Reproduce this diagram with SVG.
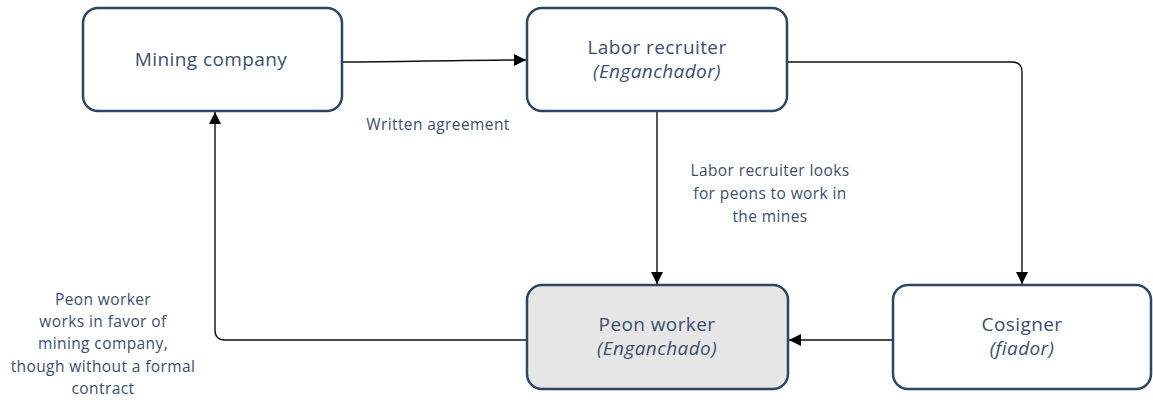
<svg xmlns="http://www.w3.org/2000/svg" width="1153" height="404" viewBox="0 0 1153 404">
<defs>
<marker id="arr" viewBox="0 0 10 10" refX="10" refY="5" markerWidth="12" markerHeight="12" markerUnits="userSpaceOnUse" orient="auto">
<path d="M0,0 L10,5 L0,10 z" fill="#000"/>
</marker>
</defs>
<style>
.box{fill:#fff;stroke:#2c4664;stroke-width:2.5}
.grey{fill:#e6e6e6}
.t{font-family:"Open Sans","Liberation Sans",sans-serif;fill:#3a4f6e;text-anchor:middle}
.n{font-size:19px;letter-spacing:0.4px}
.i{font-style:italic}
.l{font-size:15.5px;letter-spacing:0.4px}
.c{fill:none;stroke:#111;stroke-width:1.4}
</style>
<g id="connectors">
<path class="c" d="M342,62 C400,62 460,60 526,60" marker-end="url(#arr)"/>
<path class="c" d="M787,62 L1012,62 Q1022,62 1022,72 L1022,284" marker-end="url(#arr)"/>
<path class="c" d="M657,111 L657,284" marker-end="url(#arr)"/>
<path class="c" d="M893,340 L789,340" marker-end="url(#arr)"/>
<path class="c" d="M527,340 L225,340 Q215,340 215,330 L215,112" marker-end="url(#arr)"/>
<text class="t l" x="438" y="130">Written agreement</text>
<text class="t l" x="770" y="176">Labor recruiter looks</text>
<text class="t l" x="770" y="199">for peons to work in</text>
<text class="t l" x="770" y="222">the mines</text>
<text class="t l" x="103" y="305">Peon worker</text>
<text class="t l" x="103" y="327">works in favor of</text>
<text class="t l" x="103" y="349">mining company,</text>
<text class="t l" x="103" y="372">though without a formal</text>
<text class="t l" x="103" y="394">contract</text>
</g>
<g id="mining">
<rect class="box" x="83" y="8" width="259" height="103" rx="15"/>
<text class="t n" x="211" y="66">Mining company</text>
</g>
<g id="recruiter">
<rect class="box" x="527" y="8" width="260" height="103" rx="15"/>
<text class="t n" x="657" y="54">Labor recruiter</text>
<text class="t n i" x="657" y="78">(Enganchador)</text>
</g>
<g id="peon">
<rect class="box grey" x="527" y="285" width="261" height="104" rx="15"/>
<text class="t n" x="657" y="331">Peon worker</text>
<text class="t n i" x="657" y="355">(Enganchado)</text>
</g>
<g id="cosigner">
<rect class="box" x="893" y="285" width="258" height="104" rx="15"/>
<text class="t n" x="1022" y="331">Cosigner</text>
<text class="t n i" x="1022" y="355">(fiador)</text>
</g>
</svg>
